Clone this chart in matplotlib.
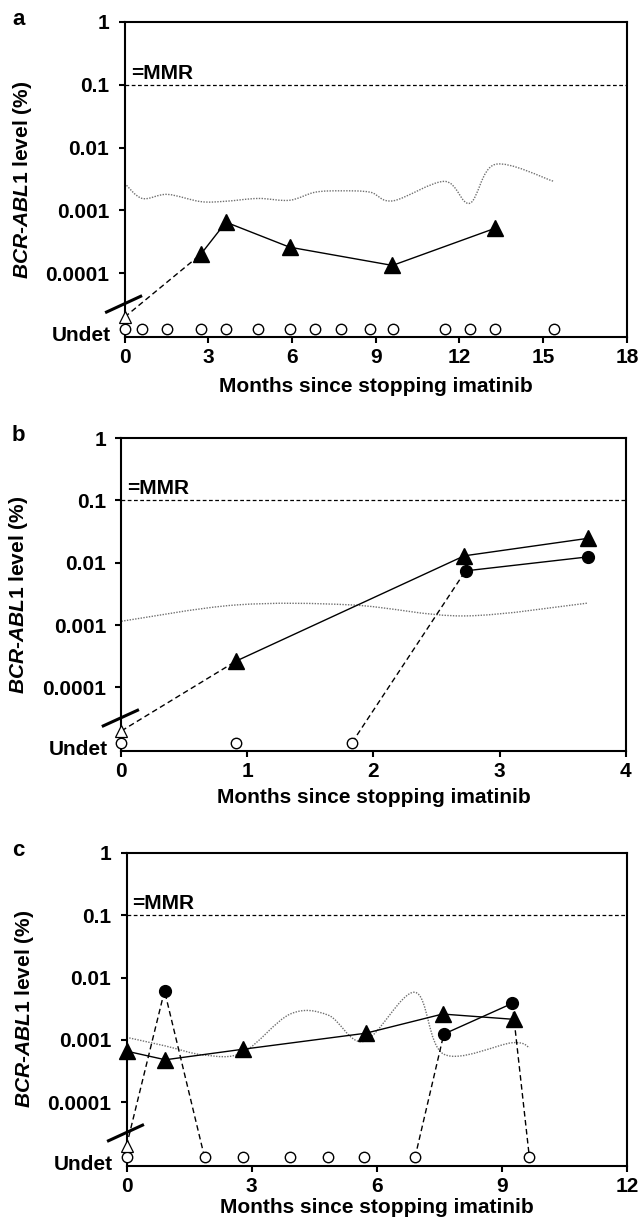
import numpy as np
import matplotlib
matplotlib.use('Agg')
import matplotlib.pyplot as plt
from matplotlib.path import Path
from matplotlib.patches import PathPatch

plt.rcParams['font.family'] = ['Liberation Sans', 'DejaVu Sans']
plt.rcParams['font.weight'] = 'bold'
plt.rcParams['mathtext.fontset'] = 'custom'
plt.rcParams['mathtext.it'] = 'Liberation Sans:italic:bold'
plt.rcParams['mathtext.rm'] = 'Liberation Sans:bold'

UNDET = 1.3e-5   # level where undetectable samples are drawn
START = 2.0e-5   # open triangle at month 0
MMR = 0.1

# ---- panel a
a_undet_x = [0, 0.63, 1.53, 2.73, 3.63, 4.79, 5.91, 6.83, 7.77, 8.8, 9.62, 11.47, 12.37, 13.28, 15.38]
a_tri_x = [2.73, 3.63, 5.91, 9.6, 13.28]
a_tri_y = [2.0e-4, 6.5e-4, 2.6e-4, 1.33e-4, 5.2e-4]
a_ref_x = [0, 0.63, 1.53, 2.73, 3.63, 4.79, 5.91, 6.83, 7.77, 8.8, 9.62, 11.47, 12.37, 13.28, 15.38]
a_ref_y = [2.7e-3, 1.55e-3, 1.8e-3, 1.38e-3, 1.4e-3, 1.55e-3, 1.45e-3, 1.95e-3, 2.05e-3, 1.95e-3,
           1.42e-3, 2.9e-3, 1.3e-3, 5.4e-3, 2.9e-3]

# ---- panel b
b_undet_x = [0, 0.91, 1.83]
b_tri_x = [0.91, 2.72, 3.70]
b_tri_y = [2.64e-4, 0.0129, 0.0246]
b_circ_x = [2.73, 3.70]
b_circ_y = [7.4e-3, 0.0124]
b_ref_x = [0, 0.91, 1.83, 2.72, 3.70]
b_ref_y = [1.15e-3, 2.1e-3, 2.1e-3, 1.4e-3, 2.25e-3]

# ---- panel c
c_undet_x = [0, 1.87, 2.79, 3.92, 4.83, 5.69, 6.91, 9.65]
c_tri_x = [0, 0.93, 2.80, 5.73, 7.57, 9.27]
c_tri_y = [6.6e-4, 4.8e-4, 7.1e-4, 1.28e-3, 2.6e-3, 2.14e-3]
c_circ_x = [0.91, 7.6, 9.24]
c_circ_y = [6.15e-3, 1.24e-3, 3.86e-3]
c_ref_x = [0, 0.93, 1.87, 2.79, 3.92, 4.83, 5.69, 6.91, 7.6, 9.24, 9.65]
c_ref_y = [1.1e-3, 8.0e-4, 5.7e-4, 6.3e-4, 2.6e-3, 2.5e-3, 9.5e-4, 5.8e-3, 5.9e-4, 9.0e-4, 7.5e-4]

ytick_vals = [1e-4, 1e-3, 1e-2, 1e-1, 1]
ytick_labels = ['0.0001', '0.001', '0.01', '0.1', '1']

FS = 15


def smooth_path(xs, ys):
    # excel-style smoothed line: cubic bezier segments, control points built in (x, log y)
    x = np.asarray(xs, float)
    ly = np.log10(ys)
    n = len(x)
    verts = [(x[0], ys[0])]
    codes = [Path.MOVETO]
    for i in range(n - 1):
        i0 = max(i - 1, 0)
        i3 = min(i + 2, n - 1)
        c1x = x[i] + (x[i + 1] - x[i0]) / 6
        c1y = ly[i] + (ly[i + 1] - ly[i0]) / 6
        c2x = x[i + 1] - (x[i3] - x[i]) / 6
        c2y = ly[i + 1] - (ly[i3] - ly[i]) / 6
        verts += [(c1x, 10 ** c1y), (c2x, 10 ** c2y), (x[i + 1], ys[i + 1])]
        codes += [Path.CURVE4] * 3
    return Path(verts, codes)


def dashed(ax, xs, ys):
    ax.plot(xs, ys, color='k', lw=1.0, ls=(0, (4, 2.5)), zorder=3, clip_on=False)


def solid(ax, xs, ys):
    ax.plot(xs, ys, color='k', lw=1.0, zorder=3, clip_on=False)


def setup(ax, xmax, xstep, letter, xlab_y=-0.157):
    ax.set_yscale('log')
    ax.set_ylim(10 ** -5.02, 1)
    ax.set_xlim(0, xmax)
    ax.set_xticks(np.arange(0, xmax + 0.01, xstep))
    ax.set_xticklabels([f'{int(v)}' for v in np.arange(0, xmax + 0.01, xstep)], fontsize=FS)
    ax.set_yticks(ytick_vals)
    ax.set_yticklabels(ytick_labels, fontsize=FS)
    ax.set_yticks([1.08e-5], ['Undet'], minor=True, fontsize=FS)
    ax.tick_params(which='major', direction='out', length=4, width=1.5)
    ax.tick_params(axis='x', which='major', pad=4)
    ax.tick_params(axis='y', which='major', pad=7)
    ax.tick_params(axis='y', which='minor', length=0, pad=10)
    for s in ax.spines.values():
        s.set_linewidth(1.5)
    ax.axhline(MMR, color='k', lw=0.9, ls=(0, (3, 2)), zorder=1)
    ax.text(0.012, MMR * 1.08, '=MMR', transform=ax.get_yaxis_transform(),
            fontsize=FS, fontweight='bold', va='bottom', ha='left')
    ax.plot([-0.036, 0.032], [0.08, 0.13], transform=ax.transAxes, color='k', lw=2.2,
            clip_on=False, zorder=5)
    ax.set_xlabel('Months since stopping imatinib', fontsize=FS, fontweight='bold')
    ax.xaxis.set_label_coords(0.5, xlab_y)
    ax.xaxis.label.set_va('center')
    ax.set_ylabel(r'$\mathit{BCR}$-$\mathit{ABL1}$ level (%)', fontsize=FS, fontweight='bold')
    ax.yaxis.set_label_coords(-0.204, 0.5)
    ax.yaxis.label.set_va('center')
    fig = ax.figure
    bb = ax.get_position()
    fig.text(12 / 639, bb.y1 + 0.002, letter, fontsize=FS + 1, fontweight='bold', va='center', ha='left')


def ref_curve(ax, xs, ys):
    ax.add_patch(PathPatch(smooth_path(xs, ys), fill=False, edgecolor='#707070', lw=1.0,
                           ls=(0, (1, 1)), zorder=2))


def markers(ax, undet_x, tri_x=None, tri_y=None, circ_x=None, circ_y=None):
    ax.plot(undet_x, [UNDET] * len(undet_x), ls='none', marker='o', ms=7.5, mfc='white',
            mec='k', mew=1.0, zorder=6, clip_on=False)
    ax.plot([0], [START], ls='none', marker='^', ms=9, mfc='white', mec='k', mew=0.9,
            zorder=6, clip_on=False)
    if tri_x is not None:
        ax.plot(tri_x, tri_y, ls='none', marker='^', ms=11, color='k', zorder=7, clip_on=False)
    if circ_x is not None:
        ax.plot(circ_x, circ_y, ls='none', marker='o', ms=8.5, color='k', zorder=7, clip_on=False)


fig = plt.figure(figsize=(6.39, 12.22), dpi=100)
ax_a = fig.add_axes([0.195, 0.724, 0.786, 0.258])
ax_b = fig.add_axes([0.190, 0.3855, 0.789, 0.256])
ax_c = fig.add_axes([0.198, 0.046, 0.784, 0.256])

# a
setup(ax_a, 18, 3, 'a')
ref_curve(ax_a, a_ref_x, a_ref_y)
dashed(ax_a, [0, a_tri_x[0]], [START, a_tri_y[0]])
solid(ax_a, a_tri_x, a_tri_y)
markers(ax_a, a_undet_x, a_tri_x, a_tri_y)

# b
setup(ax_b, 4, 1, 'b', xlab_y=-0.15)
ref_curve(ax_b, b_ref_x, b_ref_y)
dashed(ax_b, [0, b_tri_x[0]], [START, b_tri_y[0]])
solid(ax_b, b_tri_x, b_tri_y)
dashed(ax_b, [b_undet_x[2], b_circ_x[0]], [UNDET, b_circ_y[0]])
solid(ax_b, b_circ_x, b_circ_y)
markers(ax_b, b_undet_x, b_tri_x, b_tri_y, b_circ_x, b_circ_y)

# c
setup(ax_c, 12, 3, 'c', xlab_y=-0.132)
ref_curve(ax_c, c_ref_x, c_ref_y)
solid(ax_c, c_tri_x, c_tri_y)
dashed(ax_c, [0, c_circ_x[0], c_undet_x[1]], [START, c_circ_y[0], UNDET])
dashed(ax_c, [c_undet_x[6], c_circ_x[1]], [UNDET, c_circ_y[1]])
solid(ax_c, c_circ_x[1:], c_circ_y[1:])
dashed(ax_c, [c_circ_x[2], c_undet_x[7]], [c_circ_y[2], UNDET])
markers(ax_c, c_undet_x, c_tri_x, c_tri_y, c_circ_x, c_circ_y)

fig.savefig('out.png', dpi=100)
